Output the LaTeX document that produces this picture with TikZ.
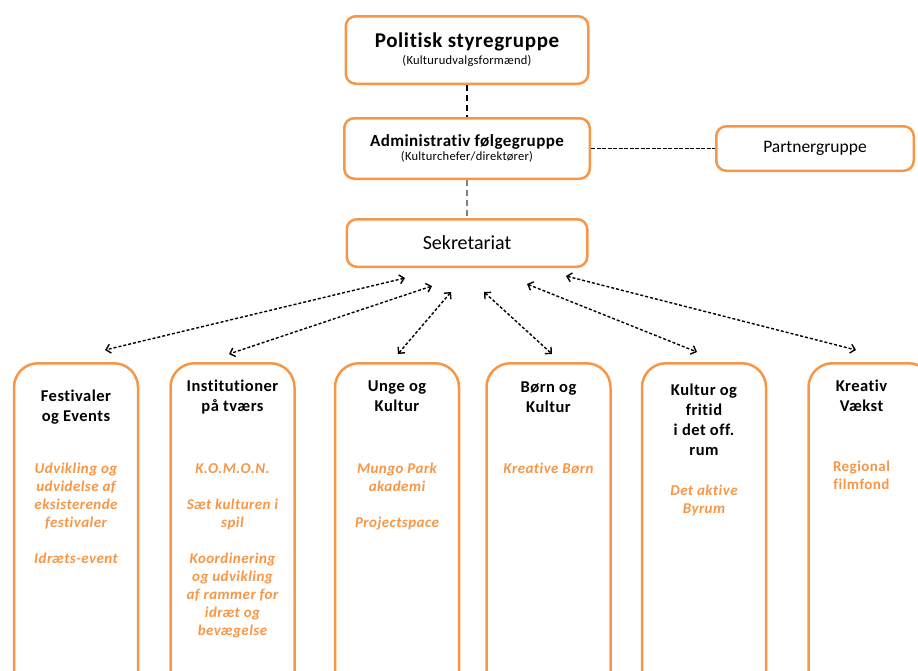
\documentclass[tikz,border=0pt]{standalone}
\usepackage{fontspec}
\setmainfont{Carlito}[Ligatures=NoCommon]
\usetikzlibrary{positioning,arrows.meta}
\definecolor{boxorange}{HTML}{F79646}
\definecolor{linkgray}{HTML}{808080}

\tikzset{
  topbox/.style={draw=boxorange, line width=2.5pt, rounded corners=10pt,
                 fill=white, align=center, inner sep=0pt},
  colbox/.style={draw=boxorange, line width=2.5pt, rounded corners=24pt,
                 minimum width=124pt, minimum height=340pt},
  coltitle/.style={font=\fontsize{16.5}{20}\selectfont\bfseries\addfontfeature{LetterSpace=3},
                   align=center, anchor=north, inner sep=0pt},
  colitem/.style={font=\fontsize{15}{18}\selectfont\bfseries\itshape\addfontfeature{LetterSpace=3},
                  text=boxorange, align=center, anchor=north, inner sep=0pt},
  link/.style={{Straight Barb[length=4.5pt,width=9pt]}-{Straight Barb[length=4.5pt,width=9pt]},
               dash pattern=on 3pt off 2pt, line width=1.4pt},
}

\begin{document}
\begin{tikzpicture}[x=1pt, y=-1pt]

        \path[use as bounding box, clip] (0,0) rectangle (918,670);

        % top of the chart
        \node (pol) [topbox, minimum width=242.5pt, minimum height=67.5pt] at (467,50)
              {{\fontsize{21}{24}\selectfont\bfseries\addfontfeature{LetterSpace=3}Politisk styregruppe}\\[3pt]
               {\fontsize{12.5}{14}\selectfont\addfontfeature{LetterSpace=2}(Kulturudvalgsformænd)}};
        \node (adm) [topbox, minimum width=245.5pt, minimum height=60.5pt,
                     below=32pt of pol]
              {{\fontsize{17}{20}\selectfont\bfseries\addfontfeature{LetterSpace=2.5}Administrativ følgegruppe}\\[1pt]
               {\fontsize{12.5}{14}\selectfont\addfontfeature{LetterSpace=2}(Kulturchefer/direktører)}};
        \node (partner) [topbox, minimum width=197.5pt, minimum height=44.5pt,
                         right=124pt of adm]
              {\fontsize{17.5}{20}\selectfont Partnergruppe};
        \node (sek) [topbox, minimum width=240.5pt, minimum height=47.5pt,
                     below=38pt of adm]
              {\fontsize{20}{24}\selectfont Sekretariat};

        \draw [line width=2.5pt, dash pattern=on 6pt off 4pt] (pol.south) -- (adm.north);
        \draw [line width=2.5pt, dash pattern=on 6pt off 4pt, linkgray] (adm.south) -- (sek.north);
        \draw [line width=1.7pt, dash pattern=on 4pt off 1.5pt] (adm) -- (partner);

        % columns
        \node (fest) [colbox, anchor=north] at (76,362) {};
        \node (inst) [colbox, right=30pt of fest] {};
        \node (unge) [colbox, right=38pt of inst] {};
        \node (born) [colbox, right=25pt of unge] {};
        \node (kult) [colbox, right=29pt of born] {};
        \node (krea) [colbox, right=40pt of kult] {};

        \node (festT) [coltitle, below=28pt of fest.north] {Festivaler\\og Events};
        \node (instT) [coltitle, below=18pt of inst.north] {Institutioner\\på tværs};
        \node (ungeT) [coltitle, below=19pt of unge.north] {Unge og\\Kultur};
        \node (bornT) [coltitle, below=20pt of born.north] {Børn og\\Kultur};
        \node (kultT) [coltitle, below=22pt of kult.north] {Kultur og\\fritid\\i det off.\\rum};
        \node (kreaT) [coltitle, below=18pt of krea.north, xshift=-9pt] {Kreativ\\Vækst};

        \node (festI) [colitem, below=101pt of fest.north]
              {Udvikling og\\udvidelse af\\eksisterende\\festivaler\\[18pt]Idræts-event};
        \node (instI) [colitem, below=101pt of inst.north]
              {K.O.M.O.N.\\[18pt]Sæt kulturen i\\spil\\[18pt]Koordinering\\og udvikling\\af rammer for\\idræt og\\bevægelse};
        \node (ungeI) [colitem, below=101pt of unge.north]
              {Mungo Park\\akademi\\[18pt]Projectspace};
        \node (bornI) [colitem, below=101pt of born.north] {Kreative Børn};
        \node (kultI) [colitem, below=123pt of kult.north] {Det aktive\\Byrum};
        \node (kreaI) [colitem, font=\fontsize{15}{18}\selectfont\bfseries\addfontfeature{LetterSpace=3},
                       below=99pt of krea.north, xshift=-9pt] {Regional\\filmfond};

        % links to the secretariat
        \coordinate (s1) at (405,278);  \coordinate (c1) at (105,350);
        \coordinate (s2) at (432,286);  \coordinate (c2) at (229,354);
        \coordinate (s3) at (451,292);  \coordinate (c3) at (398,354);
        \coordinate (s4) at (484,292);  \coordinate (c4) at (552,354);
        \coordinate (s5) at (527,284);  \coordinate (c5) at (697,352);
        \coordinate (s6) at (566,276);  \coordinate (c6) at (856,350);
        \foreach \i in {1,...,6}
            \draw [link] (s\i) -- (c\i);

\end{tikzpicture}
\end{document}
